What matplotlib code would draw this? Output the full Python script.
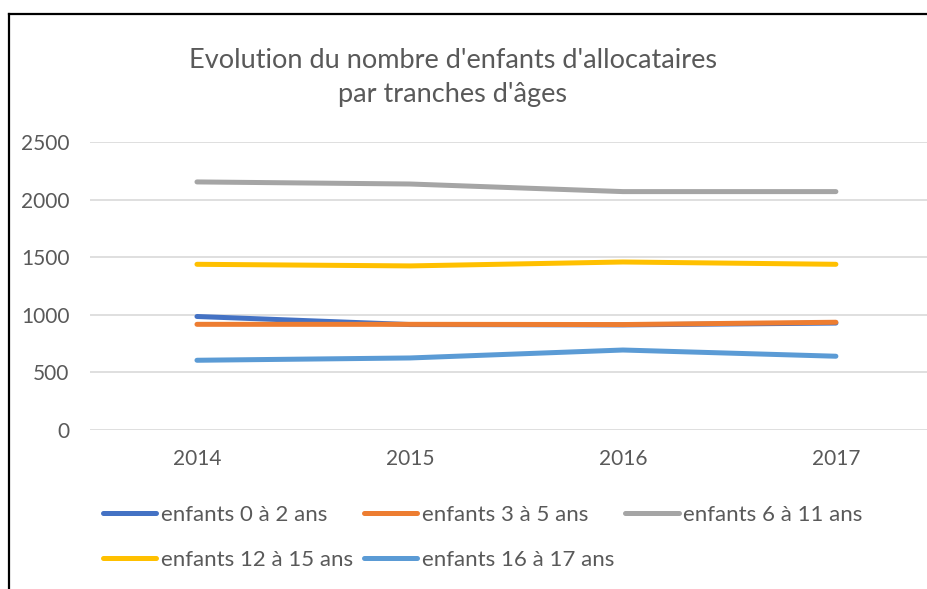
import matplotlib.pyplot as plt
from matplotlib.lines import Line2D

plt.rcParams['font.family'] = ['Lato', 'DejaVu Sans']

annees = ['2014', '2015', '2016', '2017']
serie_0_2 = [985, 915, 912, 928]
serie_3_5 = [917, 917, 915, 935]
serie_6_11 = [2153, 2135, 2069, 2069]
serie_12_15 = [1438, 1424, 1458, 1438]
serie_16_17 = [605, 625, 694, 640]

noms = ['enfants 0 à 2 ans', 'enfants 3 à 5 ans', 'enfants 6 à 11 ans',
        'enfants 12 à 15 ans', 'enfants 16 à 17 ans']
couleurs = ['#4472C4', '#ED7D31', '#A5A5A5', '#FFC000', '#5B9BD5']
series = [serie_0_2, serie_3_5, serie_6_11, serie_12_15, serie_16_17]

gris = '#595959'
fig = plt.figure(figsize=(9.28, 5.89), dpi=100)
ax = fig.add_axes([0.0975, 0.27, 0.918, 0.489])

x = range(len(annees))
lignes = []
for s, c, n in zip(series, couleurs, noms):
    l, = ax.plot(x, s, color=c, linewidth=3.6, solid_capstyle='round', label=n)
    lignes.append(l)

ax.set_xlim(-0.5, 3.5)
ax.set_ylim(0, 2500)
ax.set_yticks([0, 500, 1000, 1500, 2000, 2500])
ax.set_xticks(list(x))
ax.set_xticklabels(annees)
ax.grid(axis='y', color='#D9D9D9', linewidth=1.2)
ax.set_axisbelow(True)
for sp in ax.spines.values():
    sp.set_visible(False)
ax.tick_params(length=0, colors=gris, labelsize=15)
ax.tick_params(axis='y', pad=15)
ax.tick_params(axis='x', pad=14)

fig.text(0.488, 0.869, "Evolution du nombre d'enfants d'allocataires\npar tranches d'âges",
         ha='center', va='center', fontsize=19.5, color=gris, linespacing=1.45)

# ordre par lignes comme dans Excel
ordre = [0, 3, 1, 4, 2]
fig.legend([lignes[i] for i in ordre], [noms[i] for i in ordre],
           loc='upper left', bbox_to_anchor=(0.111, 0.143), ncol=3, frameon=False,
           fontsize=16, labelcolor=gris, handlelength=2.4, handletextpad=0.2,
           columnspacing=0.5, labelspacing=1.12, borderaxespad=0, borderpad=0)

# cadre du graphique
fig.add_artist(Line2D([0.0097, 0.0097], [0, 0.977], color='black', linewidth=1.6))
fig.add_artist(Line2D([0.0097, 1], [0.977, 0.977], color='black', linewidth=1.6))

fig.savefig('out.png', dpi=100)
